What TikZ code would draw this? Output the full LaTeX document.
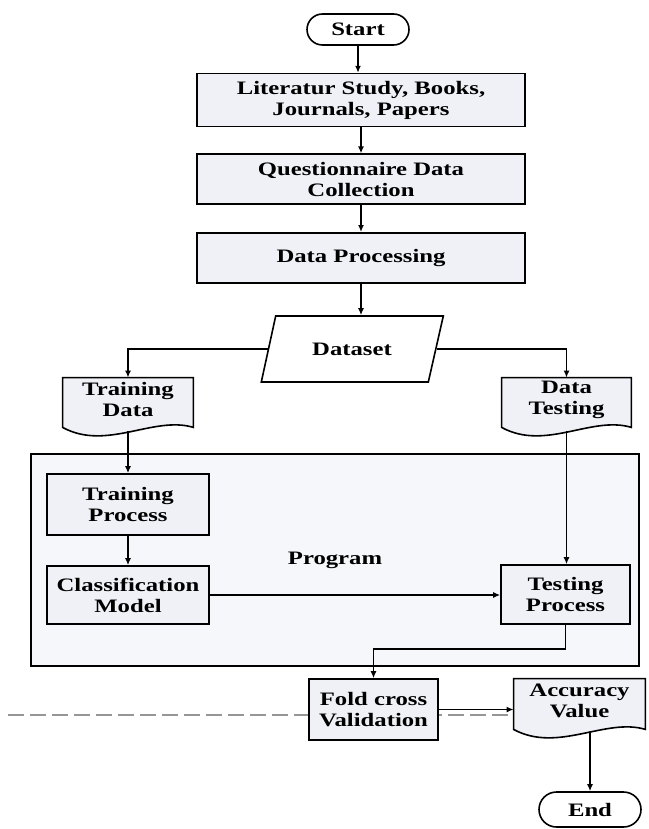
\documentclass[tikz,border=0pt]{standalone}
\usepackage{fontspec}
\setmainfont{Liberation Serif}[FakeStretch=1.3]
\usepackage{tikz}
\usetikzlibrary{shapes.geometric, shapes.misc, arrows.meta, positioning, calc, backgrounds}
\definecolor{relleno}{RGB}{239,241,246}
\definecolor{marco}{RGB}{246,247,250}
\definecolor{corte}{RGB}{150,150,150}
\newcommand{\txt}{\bfseries\fontsize{9.5}{10.5}\selectfont}
\tikzset{
  procbox/.style={rectangle, draw, line width=0.8pt, fill=relleno, align=center,
                  inner sep=2pt, font=\txt},
  termbox/.style={rounded rectangle, draw, line width=0.8pt, fill=white,
                  minimum width=55pt, inner sep=2pt, font=\txt},
  iobox/.style={trapezium, trapezium left angle=61, trapezium right angle=120,
                trapezium stretches body, draw, line width=0.8pt, fill=white,
                minimum width=91pt, minimum height=33pt, font=\txt},
  docbox/.style={rectangle, align=center, inner sep=1pt, font=\txt},
  docline/.style={draw, line width=0.8pt, fill=relleno},
  progbox/.style={rectangle, draw, line width=0.8pt, fill=marco,
                  minimum width=304pt, minimum height=106pt, font=\txt},
  flecha/.style={-{Latex[length=3.5pt, width=3pt]}, line width=0.8pt},
  cortelinea/.style={corte, dash pattern=on 8pt off 3pt, line width=0.6pt}
}
% document outline: flat top, wavy bottom
\newcommand{\docshape}[1]{%
  \path[docline] (#1.north west) -- (#1.north east) -- ([yshift=-3pt]#1.south east)
    .. controls +(-20pt,6pt) and +(22pt,-12pt) .. ([yshift=-3pt]#1.south west) -- cycle;}

\begin{document}
\begin{tikzpicture}[x=0.5pt, y=-0.5pt, node distance=13.5pt]
  \useasboundingbox (0,0) rectangle (648,829);
  % container first, so that the rest sits on it
  \node[progbox] (prog) at (335,560) {Program};

  \node[termbox, minimum height=15.5pt] (start) at (358,29.5) {Start};
  \node[procbox, minimum width=164pt, minimum height=26.5pt, below=of start, xshift=1.5pt] (lit)
        {Literatur Study, Books,\\Journals, Papers};
  \node[procbox, minimum width=164pt, minimum height=25pt, below=13pt of lit] (quest)
        {Questionnaire Data\\Collection};
  \node[procbox, minimum width=164pt, minimum height=25pt, below=of quest] (dproc)
        {Data Processing};
  \node[iobox] (dset) at (352,349) {Dataset};

  \node[docbox, minimum width=65pt, minimum height=21.5pt] (trd) at (128,399.5) {Training\\Data};
  \node[docbox, minimum width=64.5pt, minimum height=21.5pt] (dtest) at (566.5,399.5) {Data\\Testing};

  \node[procbox, minimum width=81pt, minimum height=30.5pt] (trp) at (128,504.5) {Training\\Process};
  \node[procbox, minimum width=81pt, minimum height=29pt] (clm) at (128,595) {Classification\\Model};
  \node[procbox, minimum width=64.5pt, minimum height=29.5pt] (tsp) at (565.5,594.5) {Testing\\Process};

  \node[procbox, minimum width=64.5pt, minimum height=30.5pt] (fold) at (373.5,709.5) {Fold cross\\Validation};
  \node[docbox, minimum width=65.5pt, minimum height=22pt] (acc) at (579.5,701) {Accuracy\\Value};
  \node[termbox, minimum height=17.5pt] (endn) at (590,809.5) {End};

  \coordinate (cutl) at (8,715);
  \begin{scope}[on background layer]
    \draw[cortelinea] (cutl) -- (cutl -| acc.west);
    \docshape{trd}
    \docshape{dtest}
    \docshape{acc}
  \end{scope}

  \draw[flecha] (start) -- (start |- lit.north);
  \draw[flecha] (lit) -- (quest);
  \draw[flecha] (quest) -- (dproc);
  \draw[flecha] (dproc.south) -- (dproc.south |- dset.north);
  \draw[flecha] (dset.west) -| (trd.north);
  \draw[flecha] (dset.east) -| (dtest.north);
  \draw[flecha] ([yshift=-5pt]trd.south) -- (trp);
  \draw[flecha] (trp) -- (clm);
  \draw[flecha] (clm.east) -- (clm.east -| tsp.west);
  \draw[flecha] ([yshift=-5pt]dtest.south) -- (dtest.south |- tsp.north);
  \draw[flecha] (tsp.south) -- ++(0,-12pt) -| (fold.north);
  \draw[flecha] (fold.east) -- (fold.east -| acc.west);
  \draw[flecha] ([yshift=-4pt]acc.south -| endn.north) -- (endn);
\end{tikzpicture}
\end{document}
